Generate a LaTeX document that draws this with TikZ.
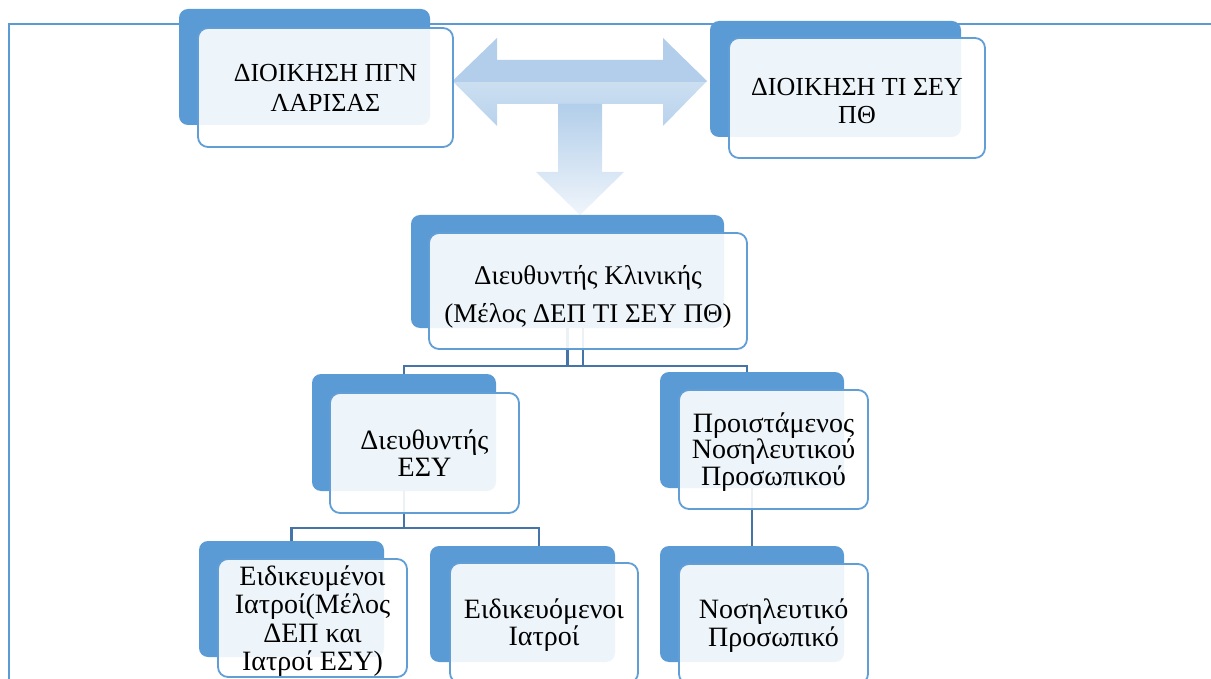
\documentclass[tikz,border=0pt]{standalone}
\usepackage{fontspec}
\setmainfont{Liberation Serif}
\usetikzlibrary{calc}
\definecolor{boxblue}{RGB}{91,155,213}
\definecolor{edgeblue}{RGB}{98,158,214}
\definecolor{connblue}{RGB}{68,116,168}
\definecolor{arrA}{RGB}{178,206,234}
\definecolor{arrB}{RGB}{204,223,241}
\definecolor{arrC}{RGB}{184,210,236}
\definecolor{arrD}{RGB}{240,245,251}
\pgfdeclareverticalshading{harrowshade}{100bp}{color(0bp)=(arrC); color(25bp)=(arrC); color(50bp)=(arrB); color(50.5bp)=(arrA); color(100bp)=(arrA)}
\pgfdeclareverticalshading{varrowshade}{100bp}{color(0bp)=(arrD); color(25bp)=(arrD); color(75bp)=(arrA); color(100bp)=(arrA)}
\tikzset{
  darkbox/.style={fill=boxblue, draw=none, rounded corners=9pt, inner sep=0pt},
  frontbox/.style={fill=white, fill opacity=0.9, text opacity=1, draw=edgeblue,
    line width=1.8pt, rounded corners=10pt, inner sep=0pt, align=center,
    font=\fontsize{28}{28}\selectfont},
  conn/.style={draw=connblue, line width=2.2pt},
  frameline/.style={draw=boxblue, line width=2.2pt},
}
\begin{document}
\begin{tikzpicture}[x=1pt,y=-1pt]
\useasboundingbox (0,0) rectangle (1211,679);
\clip (0,0) rectangle (1211,679);
% page frame
\draw[frameline] (9,679) -- (9,24) -- (1211,24);
% T-shaped arrow
\shade[shading=harrowshade] (452.5,81) -- (497,38) -- (497,60) -- (663,60) -- (663,38)
  -- (707,81) -- (663,126) -- (663,104) -- (497,104) -- (497,126) -- cycle;
\shade[shading=varrowshade] (558,104) -- (602,104) -- (602,172) -- (624,172) -- (580,215)
  -- (536,172) -- (558,172) -- cycle;
% back (dark) boxes
\node[darkbox, minimum width=251pt, minimum height=116pt] (b1d) at (304.5,67) {};
\node[darkbox, minimum width=251pt, minimum height=116pt] (b2d) at (835.5,79) {};
\node[darkbox, minimum width=313pt, minimum height=113pt] (b3d) at (567.5,271.5) {};
\node[darkbox, minimum width=184pt, minimum height=117pt] (b5d) at (404,432.5) {};
\node[darkbox, minimum width=184pt, minimum height=116pt] (b6d) at (752,430) {};
\node[darkbox, minimum width=185pt, minimum height=116pt] (b7d) at (291.5,599) {};
\node[darkbox, minimum width=185pt, minimum height=116pt] (b8d) at (522.5,604) {};
\node[darkbox, minimum width=184pt, minimum height=116pt] (b9d) at (752,604) {};
% connectors
\coordinate (bus1) at (0,366);
\coordinate (bus2) at (0,528);
\draw[conn] (b3d.south) |- (b5d.north |- bus1) -- (b5d.north);
\draw[conn] ([xshift=15.5pt]b3d.south) |- ([xshift=-5pt]b6d.north |- bus1) -- ([xshift=-5pt]b6d.north);
\draw[conn] (b3d.south |- bus1) -- ([xshift=15.5pt]b3d.south |- bus1);
\draw[conn] (b5d.south) |- (b7d.north |- bus2) -- (b7d.north);
\draw[conn] (b5d.south) |- ([xshift=16.5pt]b8d.north |- bus2) -- ([xshift=16.5pt]b8d.north);
\draw[conn] (b6d.south) -- (b9d.north);
% front boxes with text
\node[frontbox, minimum width=255pt, minimum height=119pt, font=\fontsize{26}{30}\selectfont] (b1) at (325.5,87.5) {ΔΙΟΙΚΗΣΗ ΠΓΝ\\ΛΑΡΙΣΑΣ};
\node[frontbox, minimum width=256pt, minimum height=120pt, font=\fontsize{26}{28}\selectfont] (b2) at (857,98) {\rule{0pt}{23pt}ΔΙΟΙΚΗΣΗ ΤΙ ΣΕΥ\\ΠΘ};
\node[frontbox, minimum width=318pt, minimum height=116pt, font=\fontsize{27}{38}\selectfont] (b3) at (588,291) {\rule{0pt}{30pt}Διευθυντής Κλινικής\\(Μέλος ΔΕΠ ΤΙ ΣΕΥ ΠΘ)};
\node[frontbox, minimum width=189pt, minimum height=120pt, font=\fontsize{28}{27}\selectfont] (b5) at (424.5,453) {Διευθυντής\\ΕΣΥ};
\node[frontbox, minimum width=189pt, minimum height=119pt, font=\fontsize{28}{26.5}\selectfont] (b6) at (773.5,449.5) {\rule{0pt}{24pt}Προιστάμενος\\Νοσηλευτικού\\Προσωπικού};
\node[frontbox, minimum width=189pt, minimum height=118pt, font=\fontsize{28}{28.3}\selectfont] (b7) at (312.5,618) {\rule{0pt}{26pt}Ειδικευμένοι\\Ιατροί(Μέλος\\ΔΕΠ και\\Ιατροί ΕΣΥ)};
\node[frontbox, minimum width=188pt, minimum height=120pt, font=\fontsize{28}{27}\selectfont] (b8) at (544,623) {\rule{0pt}{24pt}Ειδικευόμενοι\\Ιατροί};
\node[frontbox, minimum width=189pt, minimum height=120pt] (b9) at (773.5,624) {\rule{0pt}{23pt}Νοσηλευτικό\\Προσωπικό};
\end{tikzpicture}
\end{document}
